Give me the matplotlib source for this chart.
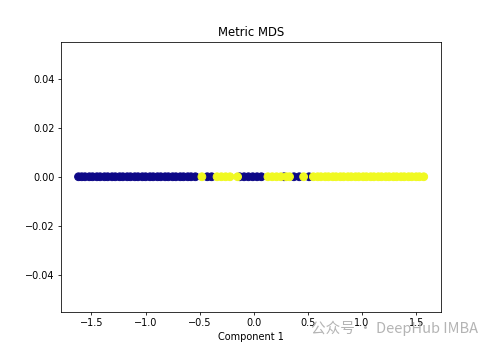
import matplotlib
matplotlib.use("Agg")
import matplotlib.pyplot as plt

# component 1 positions, split by class
blue_x = [-1.62, -1.59, -1.56, -1.52, -1.49, -1.45, -1.42, -1.38, -1.35, -1.31,
          -1.28, -1.24, -1.21, -1.17, -1.14, -1.10, -1.07, -1.03, -1.00, -0.96,
          -0.93, -0.89, -0.86, -0.82, -0.79, -0.75, -0.72, -0.68, -0.65, -0.61,
          -0.58, -0.54, -0.43, -0.39, -0.13, -0.09, -0.05, -0.01, 0.03, 0.07,
          0.28, 0.37, 0.42, 0.51]
yellow_x = [-0.48, -0.34, -0.30, -0.26, -0.22, -0.15, 0.13, 0.17, 0.21, 0.25,
            0.30, 0.33, 0.46, 0.55, 0.59, 0.62, 0.66, 0.69, 0.73, 0.76, 0.80,
            0.83, 0.87, 0.90, 0.94, 0.97, 1.01, 1.04, 1.08, 1.11, 1.15, 1.18,
            1.22, 1.25, 1.29, 1.32, 1.36, 1.39, 1.43, 1.46, 1.50, 1.53, 1.57]

x = blue_x + yellow_x
y = [0.0] * len(x)
labels = [0] * len(blue_x) + [1] * len(yellow_x)

fig = plt.figure(figsize=(7, 5), dpi=70)
plt.scatter(x, y, c=labels, cmap="plasma", s=64)
plt.title("Metric MDS")
plt.xlabel("Component 1")

# watermark
fig.text(0.635, 0.05, "公众号 · DeepHub IMBA", fontsize=15, color="#b4b4b4",
         family=["Noto Sans CJK SC", "DejaVu Sans"])

plt.savefig("out.png")
